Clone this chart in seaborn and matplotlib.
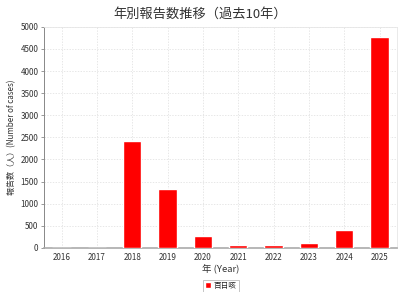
import matplotlib
matplotlib.use("Agg")
import matplotlib.pyplot as plt
import seaborn as sns
import pandas as pd

years = ["2016", "2017", "2018", "2019", "2020", "2021", "2022", "2023", "2024", "2025"]
cases = [0, 0, 2420, 1330, 262, 75, 60, 120, 400, 4765]
series_name = "百日咳"
title = "年別報告数推移（過去10年）"
xlabel = "年 (Year)"
ylabel = "報告数（人）(Number of cases)"
yticks = [0, 500, 1000, 1500, 2000, 2500, 3000, 3500, 4000, 4500, 5000]

sns.set_theme(style="white")
plt.rcParams["font.family"] = ["Noto Sans CJK JP", "DejaVu Sans"]

df = pd.DataFrame({"year": years, "cases": cases})

fig = plt.figure(figsize=(4.0, 2.92), dpi=100)
ax = fig.add_axes([0.11, 0.151, 0.883, 0.757])

sns.barplot(data=df, x="year", y="cases", color="#ff0000", saturation=1,
            width=0.52, ax=ax, label=series_name, zorder=3)

ax.set_xlim(-0.5, 9.5)
ax.set_ylim(0, 5000)
ax.set_yticks(yticks)
ax.set_yticklabels([str(v) for v in yticks])
ax.tick_params(axis="both", labelsize=5.8, colors="#333333", length=2, width=0.6, pad=2)
ax.tick_params(axis="x", length=0, pad=4)
ax.tick_params(axis="y", left=True, color="#888888")

ax.grid(True, axis="both", color="#dddddd", linestyle=(0, (2, 2)), linewidth=0.5, zorder=0)
ax.set_axisbelow(True)

for side in ["top", "right"]:
    ax.spines[side].set_color("#e6e6e6")
    ax.spines[side].set_linewidth(0.6)
ax.spines["left"].set_color("#888888")
ax.spines["left"].set_linewidth(0.7)
ax.spines["bottom"].set_color("#aaaaaa")
ax.spines["bottom"].set_linewidth(1.2)

ax.set_xlabel(xlabel, fontsize=6.8, color="#333333", labelpad=1)
ax.set_ylabel(ylabel, fontsize=5.8, color="#333333", labelpad=3)
fig.suptitle(title, fontsize=9.5, color="#333333", y=0.975)

leg = ax.legend(loc="center", bbox_to_anchor=(0.5, -0.172), fontsize=5.5, frameon=True,
                fancybox=False, edgecolor="#999999", handlelength=0.8, handleheight=0.8,
                handletextpad=0.3, borderpad=0.3, borderaxespad=0)
leg.get_frame().set_linewidth(0.5)

fig.savefig("out.png", dpi=100, facecolor="white")
